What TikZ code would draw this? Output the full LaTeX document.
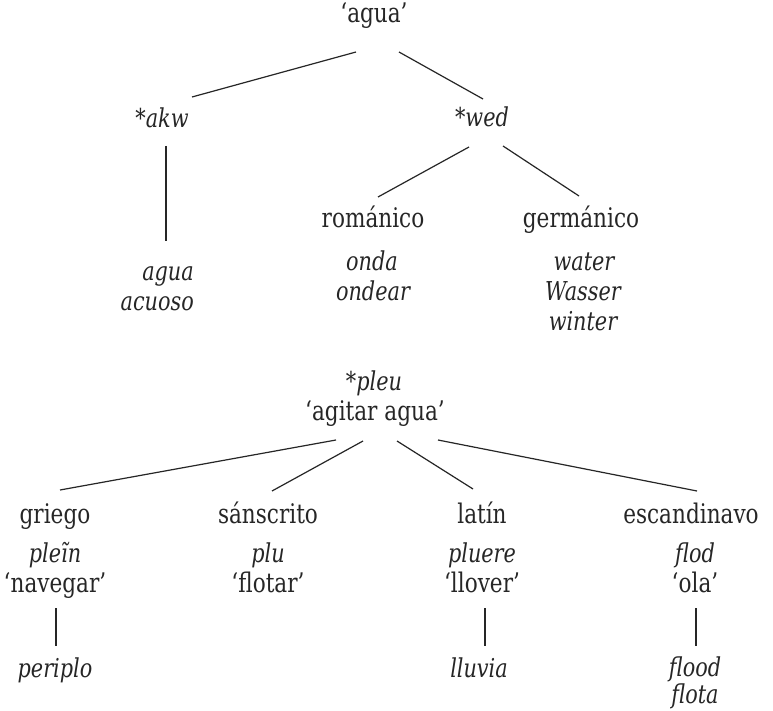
\documentclass[tikz,border=0pt]{standalone}
\usepackage{fontspec}
\setmainfont{DejaVu Serif}[FakeStretch=0.8]
\definecolor{ink}{HTML}{262626}
\begin{document}
\begin{tikzpicture}[x=1pt,y=-1pt,
  lbl/.style={anchor=base,inner sep=0pt,text=ink,font=\fontsize{27}{30}\selectfont},
  ety/.style={lbl,font=\fontsize{26}{30}\selectfont\itshape},
  branch/.style={draw=ink,line width=1.2pt}]
\useasboundingbox[fill=white] (0,0) rectangle (773,711);

% ---- upper tree: 'agua'
\node[lbl] (root) at (374,23) {‘agua’};
\node[ety] (akw) at (162,128) {*akw};
\node[ety] (wed) at (482,127) {*wed};
\node[ety,anchor=base east] (akwA) at (194,280) {agua};
\node[ety,anchor=base east] (akwB) at (194,310) {acuoso};
\node[lbl] (rom) at (373,228) {románico};
\node[lbl] (ger) at (581,228) {germánico};
\node[ety] (romA) at (372,270) {onda};
\node[ety] (romB) at (373,300) {ondear};
\node[ety] (gerA) at (584,270) {water};
\node[ety] (gerB) at (583,300) {Wasser};
\node[ety] (gerC) at (583,330) {winter};

\coordinate (r1) at (356,52);  \coordinate (k1) at (192,97);
\coordinate (r2) at (399,52);  \coordinate (w1) at (483,99);
\coordinate (k2) at (166,146); \coordinate (k3) at (166,241);
\coordinate (w2) at (469,147); \coordinate (ro1) at (378,197);
\coordinate (w3) at (503,146); \coordinate (ge1) at (579,196);
\draw[branch] (r1) -- (k1);
\draw[branch] (r2) -- (w1);
\draw[branch] (k2) -- (k3);
\draw[branch] (w2) -- (ro1);
\draw[branch] (w3) -- (ge1);

% ---- lower tree: *pleu
\node[ety] (pleu) at (374,390) {*pleu};
\node[lbl] (pleuG) at (375,420) {‘agitar agua’};

\node[lbl] (gri) at (55,523) {griego};
\node[lbl] (san) at (268,523) {sánscrito};
\node[lbl] (lat) at (482,523) {latín};
\node[lbl] (esc) at (691,523) {escandinavo};

\node[ety] (griA) at (55,562) {pleĩn};
\node[ety] (sanA) at (268,562) {plu};
\node[ety] (latA) at (482,562) {pluere};
\node[ety] (escA) at (695,562) {flod};

\node[lbl] (griB) at (55,592) {‘navegar’};
\node[lbl] (sanB) at (268,592) {‘flotar’};
\node[lbl] (latB) at (482,592) {‘llover’};
\node[lbl] (escB) at (695,592) {‘ola’};

\node[ety] (griC) at (55,677) {periplo};
\node[ety] (latC) at (479,677) {lluvia};
\node[ety] (escC) at (695,676) {flood};
\node[ety] (escD) at (695,703) {flota};

\coordinate (p1) at (336,440); \coordinate (g1) at (60,490);
\coordinate (p2) at (363,441); \coordinate (s1) at (272,491);
\coordinate (p3) at (397,441); \coordinate (l1) at (473,489);
\coordinate (p4) at (438,440); \coordinate (e1) at (697,491);
\draw[branch] (p1) -- (g1);
\draw[branch] (p2) -- (s1);
\draw[branch] (p3) -- (l1);
\draw[branch] (p4) -- (e1);

\coordinate (g2) at (56,608);  \coordinate (g3) at (56,646);
\coordinate (l2) at (485,608); \coordinate (l3) at (485,646);
\coordinate (e2) at (696,608); \coordinate (e3) at (696,646);
\draw[branch] (g2) -- (g3);
\draw[branch] (l2) -- (l3);
\draw[branch] (e2) -- (e3);
\end{tikzpicture}
\end{document}
